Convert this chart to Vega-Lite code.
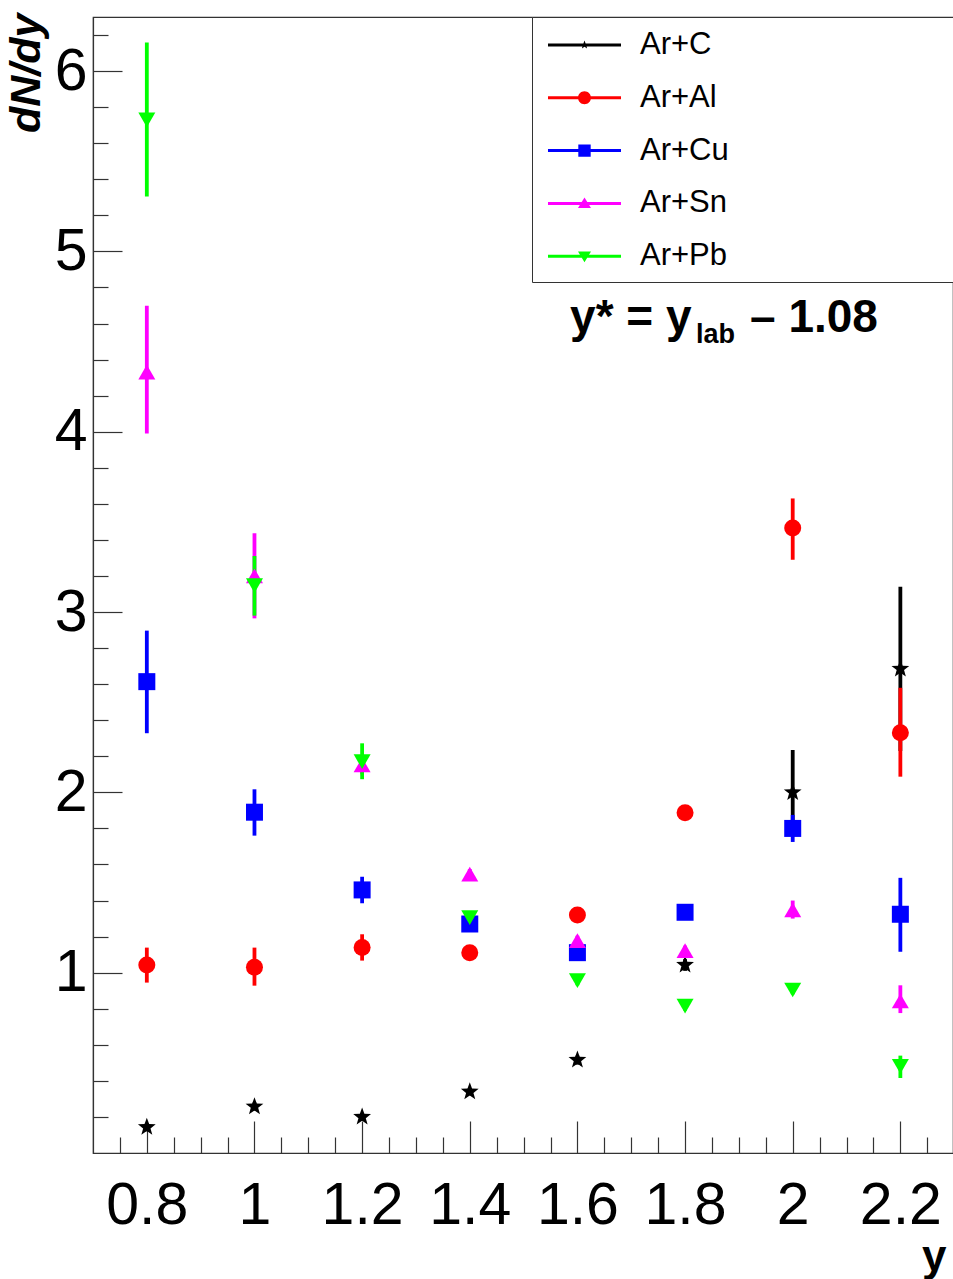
{
  "$schema": "https://vega.github.io/schema/vega-lite/v6.json",
  "width": 860,
  "height": 1136,
  "autosize": {"type": "none"},
  "padding": {"left": 93, "top": 17, "right": 0, "bottom": 126},
  "background": "white",
  "config": {
    "font": "Liberation Sans",
    "view": {"stroke": "#333", "strokeWidth": 1.2},
    "axis": {
      "grid": false,
      "domainColor": "#333",
      "domainWidth": 1.2,
      "tickColor": "#333",
      "tickWidth": 1.2,
      "labelFont": "Liberation Sans",
      "labelColor": "#000",
      "titleFont": "Liberation Sans",
      "titleColor": "#000",
      "labelFlush": false,
      "labelOverlap": false
    }
  },
  "data": {
    "values": [
      {"sys": "Ar+C", "rap": 0.8, "dndy": 0.143, "lo": 0.12, "hi": 0.165},
      {"sys": "Ar+C", "rap": 1.0, "dndy": 0.257, "lo": 0.235, "hi": 0.28},
      {"sys": "Ar+C", "rap": 1.2, "dndy": 0.2, "lo": 0.18, "hi": 0.22},
      {"sys": "Ar+C", "rap": 1.4, "dndy": 0.34, "lo": 0.32, "hi": 0.36},
      {"sys": "Ar+C", "rap": 1.6, "dndy": 0.516, "lo": 0.49, "hi": 0.54},
      {"sys": "Ar+C", "rap": 1.8, "dndy": 1.043, "lo": 1.01, "hi": 1.075},
      {"sys": "Ar+C", "rap": 2.0, "dndy": 2.0, "lo": 1.765, "hi": 2.235},
      {"sys": "Ar+C", "rap": 2.2, "dndy": 2.685, "lo": 2.23, "hi": 3.14},
      {"sys": "Ar+Al", "rap": 0.8, "dndy": 1.042, "lo": 0.945, "hi": 1.139},
      {"sys": "Ar+Al", "rap": 1.0, "dndy": 1.03, "lo": 0.928, "hi": 1.139},
      {"sys": "Ar+Al", "rap": 1.2, "dndy": 1.14, "lo": 1.067, "hi": 1.213},
      {"sys": "Ar+Al", "rap": 1.4, "dndy": 1.111, "lo": 1.08, "hi": 1.14},
      {"sys": "Ar+Al", "rap": 1.6, "dndy": 1.32, "lo": 1.29, "hi": 1.35},
      {"sys": "Ar+Al", "rap": 1.8, "dndy": 1.887, "lo": 1.86, "hi": 1.915},
      {"sys": "Ar+Al", "rap": 2.0, "dndy": 3.466, "lo": 3.29, "hi": 3.63},
      {"sys": "Ar+Al", "rap": 2.2, "dndy": 2.33, "lo": 2.087, "hi": 2.58},
      {"sys": "Ar+Cu", "rap": 0.8, "dndy": 2.614, "lo": 2.328, "hi": 2.897},
      {"sys": "Ar+Cu", "rap": 1.0, "dndy": 1.89, "lo": 1.76, "hi": 2.017},
      {"sys": "Ar+Cu", "rap": 1.2, "dndy": 1.459, "lo": 1.385, "hi": 1.532},
      {"sys": "Ar+Cu", "rap": 1.4, "dndy": 1.27, "lo": 1.24, "hi": 1.3},
      {"sys": "Ar+Cu", "rap": 1.6, "dndy": 1.111, "lo": 1.085, "hi": 1.137},
      {"sys": "Ar+Cu", "rap": 1.8, "dndy": 1.335, "lo": 1.305, "hi": 1.365},
      {"sys": "Ar+Cu", "rap": 2.0, "dndy": 1.8, "lo": 1.725, "hi": 1.875},
      {"sys": "Ar+Cu", "rap": 2.2, "dndy": 1.324, "lo": 1.116, "hi": 1.526},
      {"sys": "Ar+Sn", "rap": 0.8, "dndy": 4.33, "lo": 3.99, "hi": 4.698},
      {"sys": "Ar+Sn", "rap": 1.0, "dndy": 3.2, "lo": 2.965, "hi": 3.437},
      {"sys": "Ar+Sn", "rap": 1.2, "dndy": 2.152, "lo": 2.1, "hi": 2.2},
      {"sys": "Ar+Sn", "rap": 1.4, "dndy": 1.547, "lo": 1.52, "hi": 1.575},
      {"sys": "Ar+Sn", "rap": 1.6, "dndy": 1.178, "lo": 1.15, "hi": 1.205},
      {"sys": "Ar+Sn", "rap": 1.8, "dndy": 1.122, "lo": 1.095, "hi": 1.15},
      {"sys": "Ar+Sn", "rap": 2.0, "dndy": 1.348, "lo": 1.3, "hi": 1.4},
      {"sys": "Ar+Sn", "rap": 2.2, "dndy": 0.843, "lo": 0.776, "hi": 0.93},
      {"sys": "Ar+Pb", "rap": 0.8, "dndy": 5.73, "lo": 5.304, "hi": 6.158},
      {"sys": "Ar+Pb", "rap": 1.0, "dndy": 3.146, "lo": 2.98, "hi": 3.311},
      {"sys": "Ar+Pb", "rap": 1.2, "dndy": 2.17, "lo": 2.073, "hi": 2.272},
      {"sys": "Ar+Pb", "rap": 1.4, "dndy": 1.305, "lo": 1.28, "hi": 1.33},
      {"sys": "Ar+Pb", "rap": 1.6, "dndy": 0.956, "lo": 0.93, "hi": 0.98},
      {"sys": "Ar+Pb", "rap": 1.8, "dndy": 0.815, "lo": 0.79, "hi": 0.84},
      {"sys": "Ar+Pb", "rap": 2.0, "dndy": 0.904, "lo": 0.88, "hi": 0.93},
      {"sys": "Ar+Pb", "rap": 2.2, "dndy": 0.48, "lo": 0.416, "hi": 0.54}
    ]
  },
  "layer": [
    {
      "mark": {"type": "rule", "strokeWidth": 3.8},
      "encoding": {
        "x": {
          "field": "rap",
          "type": "quantitative",
          "scale": {"domain": [0.7, 2.2978], "nice": false, "zero": false},
          "axis": {
            "orient": "bottom",
            "values": [0.8, 1, 1.2, 1.4, 1.6, 1.8, 2, 2.2],
            "format": "~g",
            "tickSize": -32,
            "labelPadding": 55,
            "labelFontSize": 59,
            "title": "y",
            "titleFontSize": 44,
            "titleFontWeight": "bold",
            "titleX": 853,
            "titleY": 117,
            "titleAlign": "right",
            "titleBaseline": "alphabetic"
          }
        },
        "y": {
          "field": "lo",
          "type": "quantitative",
          "scale": {"domain": [0, 6.3], "nice": false, "zero": false},
          "axis": {
            "orient": "left",
            "values": [1, 2, 3, 4, 5, 6],
            "format": "d",
            "tickSize": -29,
            "labelPadding": 35,
            "labelFontSize": 59,
            "title": "dN/dy",
            "titleFontSize": 43,
            "titleFontWeight": "bold",
            "titleFontStyle": "italic",
            "titleAngle": -90,
            "titleX": -54,
            "titleY": -4,
            "titleAlign": "right",
            "titleBaseline": "alphabetic"
          }
        },
        "y2": {"field": "hi"},
        "color": {
          "field": "sys",
          "type": "nominal",
          "scale": {
            "domain": ["Ar+C", "Ar+Al", "Ar+Cu", "Ar+Sn", "Ar+Pb"],
            "range": ["#000000", "#ff0000", "#0000ff", "#ff00ff", "#00ff00"]
          },
          "legend": null
        }
      }
    },
    {
      "mark": {"type": "point", "filled": true, "opacity": 1, "size": 289, "strokeWidth": 0},
      "encoding": {
        "x": {
          "field": "rap",
          "type": "quantitative",
          "axis": {
            "orient": "bottom",
            "values": [0.75, 0.85, 0.9, 0.95, 1.05, 1.1, 1.15, 1.25, 1.3, 1.35, 1.45, 1.5, 1.55, 1.65, 1.7, 1.75, 1.85, 1.9, 1.95, 2.05, 2.1, 2.15, 2.25],
            "tickSize": -16,
            "labels": false,
            "domain": false,
            "title": null
          }
        },
        "y": {
          "field": "dndy",
          "type": "quantitative",
          "axis": {
            "orient": "left",
            "values": [0.2, 0.4, 0.6, 0.8, 1.2, 1.4, 1.6, 1.8, 2.2, 2.4, 2.6, 2.8, 3.2, 3.4, 3.6, 3.8, 4.2, 4.4, 4.6, 4.8, 5.2, 5.4, 5.6, 5.8, 6.2],
            "tickSize": -15,
            "labels": false,
            "domain": false,
            "title": null
          }
        },
        "color": {
          "field": "sys",
          "type": "nominal",
          "legend": {
            "title": " ",
            "titleOrient": "right",
            "titlePadding": 240,
            "titleFontSize": 10,
            "orient": "none",
            "legendX": 439,
            "legendY": 0,
            "padding": 10,
            "strokeColor": "#333",
            "fillColor": "white",
            "symbolSize": 1296,
            "symbolStrokeWidth": 0,
            "symbolOpacity": 1,
            "labelFont": "Liberation Sans",
            "labelFontSize": 31,
            "labelColor": "#000",
            "labelOffset": 62,
            "rowPadding": 19.8,
            "encode": {
              "symbols": {
                "update": {
                  "shape": {"signal": "datum.value === 'Ar+C' ? 'M-0.667,-0.083H3.389V0.083H-0.667ZM1.361,-0.249L1.422,-0.083L1.598,-0.077L1.458,0.032L1.507,0.201L1.361,0.103L1.215,0.201L1.264,0.032L1.124,-0.077L1.3,-0.083Z' : datum.value === 'Ar+Al' ? 'M-0.667,-0.083H3.389V0.083H-0.667ZM1,0A0.361,0.361,0,1,1,1.722,0A0.361,0.361,0,1,1,1,0Z' : datum.value === 'Ar+Cu' ? 'M-0.667,-0.083H3.389V0.083H-0.667ZM1.017,-0.344H1.705V0.344H1.017Z' : datum.value === 'Ar+Sn' ? 'M-0.667,-0.083H3.389V0.083H-0.667ZM1.361,-0.33L1.722,0.26L1,0.26Z' : 'M-0.667,-0.083H3.389V0.083H-0.667ZM1.361,0.33L1,-0.26L1.722,-0.26Z'"},
                  "size": {"value": 1296},
                  "fill": {"signal": "datum.value === 'Ar+C' ? '#14147f' : scale('color', datum.value)"},
                  "strokeWidth": {"value": 0},
                  "opacity": {"value": 1}
                }
              }
            }
          }
        },
        "shape": {
          "field": "sys",
          "type": "nominal",
          "scale": {
            "domain": ["Ar+C", "Ar+Al", "Ar+Cu", "Ar+Sn", "Ar+Pb"],
            "range": [
              "M0,-1.1L0.268,-0.369L1.045,-0.339L0.433,0.141L0.646,0.888L0,0.456L-0.646,0.888L-0.433,0.141L-1.045,-0.339L-0.268,-0.369Z",
              "circle",
              "square",
              "triangle-up",
              "triangle-down"
            ]
          },
          "legend": null
        }
      }
    },
    {
      "data": {"values": [{"t": "y* = y"}]},
      "mark": {"type": "text", "align": "left", "baseline": "alphabetic", "fontSize": 46, "fontWeight": "bold", "font": "Liberation Sans", "color": "#000"},
      "encoding": {
        "x": {"datum": 1.5863, "type": "quantitative", "axis": null},
        "y": {"datum": 4.554, "type": "quantitative", "axis": null},
        "text": {"field": "t"}
      }
    },
    {
      "data": {"values": [{"t": "lab"}]},
      "mark": {"type": "text", "align": "left", "baseline": "alphabetic", "fontSize": 27, "fontWeight": "bold", "font": "Liberation Sans", "color": "#000", "dx": 126, "dy": 11},
      "encoding": {
        "x": {"datum": 1.5863, "type": "quantitative", "axis": null},
        "y": {"datum": 4.554, "type": "quantitative", "axis": null},
        "text": {"field": "t"}
      }
    },
    {
      "data": {"values": [{"t": "– 1.08"}]},
      "mark": {"type": "text", "align": "left", "baseline": "alphabetic", "fontSize": 46, "fontWeight": "bold", "font": "Liberation Sans", "color": "#000", "dx": 180},
      "encoding": {
        "x": {"datum": 1.5863, "type": "quantitative", "axis": null},
        "y": {"datum": 4.554, "type": "quantitative", "axis": null},
        "text": {"field": "t"}
      }
    }
  ],
  "resolve": {
    "axis": {"x": "independent", "y": "independent"},
    "legend": {"color": "independent"}
  }
}
